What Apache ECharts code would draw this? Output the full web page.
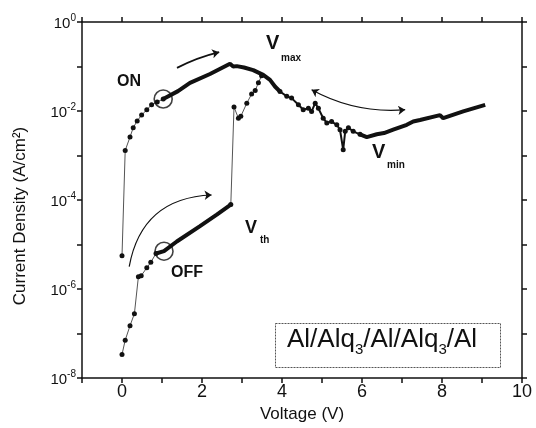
<!DOCTYPE html>
<html>
<head>
<meta charset="utf-8">
<script src="https://cdn.jsdelivr.net/npm/echarts@6/dist/echarts.min.js"></script>
<style>
  html, body { margin: 0; padding: 0; background: #fff; }
  #chart { width: 536px; height: 428px; }
</style>
</head>
<body>
<div id="chart"></div>
<script>
// OFF sweep: low current dots, then the jump at Vth
const offDotsV = [0, 0.08, 0.2, 0.31, 0.41, 0.48, 0.62, 0.72, 0.85]
const offDotsJ = [3.4e-8, 7.1e-8, 1.5e-7, 2.8e-7, 1.9e-6, 2.0e-6, 3.0e-6, 4.0e-6, 6.3e-6]
// OFF state thick segment
const offThickV = [0.85, 1.05, 1.37, 1.95, 2.37, 2.72]
const offThickJ = [6.3e-6, 7.1e-6, 1.17e-5, 2.6e-5, 4.7e-5, 7.9e-5]
// after switching at Vth
const jumpV = [2.72, 2.8, 2.91, 2.97, 3.12, 3.24, 3.33, 3.41, 3.49]
const jumpJ = [7.9e-5, 1.23e-2, 6.9e-3, 7.6e-3, 1.5e-2, 2.4e-2, 2.9e-2, 4.3e-2, 6.2e-2]

// ON sweep: low voltage dots
const onDotsV = [0, 0.08, 0.2, 0.28, 0.38, 0.49, 0.62, 0.74, 0.88, 1.03]
const onDotsJ = [5.6e-6, 1.3e-3, 2.6e-3, 4.2e-3, 6.0e-3, 8.1e-3, 1.07e-2, 1.38e-2, 1.6e-2, 1.86e-2]
// ON thick segment up to Vmax region
const onThickV = [1.03, 1.4, 1.7, 2.2, 2.7, 2.78, 2.87, 3.05, 3.28, 3.53, 3.7, 3.83, 3.95]
const onThickJ = [1.86e-2, 2.8e-2, 4.3e-2, 6.8e-2, 0.115, 0.1, 0.102, 0.095, 0.083, 0.065, 0.05, 0.035, 0.0275]
// NDR region
const ndrV = [3.95, 4.12, 4.24, 4.41, 4.53, 4.66, 4.74, 4.83, 4.91, 5.03, 5.12, 5.24, 5.37, 5.45, 5.53, 5.58, 5.66, 5.78, 5.95]
const ndrJ = [0.0275, 0.0214, 0.0195, 0.0138, 0.0107, 0.0115, 0.0098, 0.015, 0.0115, 0.0069, 0.0054, 0.0058, 0.0049, 0.0038, 0.00135, 0.0035, 0.0042, 0.0035, 0.0030]
// beyond Vmin
const tailV = [5.95, 6.12, 6.37, 6.55, 6.78, 7.12, 7.28, 7.45, 7.95, 8.03, 8.53, 9.08]
const tailJ = [0.0030, 0.0026, 0.0030, 0.0032, 0.0038, 0.0049, 0.0058, 0.0063, 0.0081, 0.0069, 0.0098, 0.0138]

// marked points (circles)
const circleV = [1.03, 1.05]
const circleJ = [1.86e-2, 7.1e-6]

const xTicks = [0, 2, 4, 6, 8, 10]

function pairs(xs, ys) {
  return xs.map((x, i) => [x, ys[i]])
}

const ink = '#111'
const chart = echarts.init(document.getElementById('chart'))

const dotSeries = (data) => ({
  type: 'line',
  data: data,
  symbol: 'circle',
  symbolSize: 5,
  itemStyle: { color: ink },
  lineStyle: { color: '#555', width: 1 },
  animation: false,
  z: 3
})
const thickSeries = (data, w) => ({
  type: 'line',
  data: data,
  showSymbol: false,
  lineStyle: { color: ink, width: w },
  animation: false,
  z: 4
})

// fresh objects per axis; 'inside' was ignored here, so a negative length points the ticks into the plot
const frameTick = () => ({ show: true, inside: true, length: -5, lineStyle: { color: ink, width: 1.5 } })
const frameLine = () => ({ show: true, onZero: false, lineStyle: { color: ink, width: 1.5 } })

const option = {
  backgroundColor: '#fff',
  grid: { left: 82, right: 14, top: 22, bottom: 49 },
  xAxis: [{
    type: 'value',
    min: -1,
    max: 10,
    interval: 1,
    axisLine: frameLine(),
    axisTick: frameTick(),
    splitLine: { show: false },
    axisLabel: {
      color: ink,
      fontFamily: 'Liberation Sans',
      fontSize: 18,
      margin: 5,
      formatter: v => xTicks.indexOf(v) >= 0 ? String(v) : ''
    },
    name: 'Voltage (V)',
    nameLocation: 'middle',
    nameGap: 26,
    nameTextStyle: { color: ink, fontFamily: 'Liberation Sans', fontSize: 17 }
  }, {
    type: 'value',
    position: 'top',
    min: -1,
    max: 10,
    interval: 1,
    axisLine: frameLine(),
    axisTick: frameTick(),
    axisLabel: { show: false },
    splitLine: { show: false }
  }],
  yAxis: [{
    type: 'log',
    logBase: 10,
    min: 1e-8,
    max: 1,
    splitNumber: 8,
    axisLine: frameLine(),
    axisTick: frameTick(),
    splitLine: { show: false },
    axisLabel: {
      margin: 6,
      formatter: v => {
        const e = Math.round(Math.log10(v))
        if (e % 2 !== 0) return ''
        return '{b|10}{s|' + e + '}'
      },
      rich: {
        b: { fontFamily: 'Liberation Sans', fontSize: 15, color: ink, lineHeight: 18, verticalAlign: 'bottom' },
        s: { fontFamily: 'Liberation Sans', fontSize: 10, color: ink, lineHeight: 10, verticalAlign: 'top' }
      }
    }
  }, {
    type: 'log',
    logBase: 10,
    min: 1e-8,
    max: 1,
    splitNumber: 8,
    position: 'right',
    axisLine: frameLine(),
    axisTick: frameTick(),
    axisLabel: { show: false },
    splitLine: { show: false }
  }],
  series: [
    dotSeries(pairs(offDotsV, offDotsJ)),
    thickSeries(pairs(offThickV, offThickJ), 4),
    dotSeries(pairs(jumpV, jumpJ)),
    dotSeries(pairs(onDotsV, onDotsJ)),
    thickSeries(pairs(onThickV, onThickJ), 4),
    Object.assign(dotSeries(pairs(ndrV, ndrJ)), { lineStyle: { color: ink, width: 2 } }),
    thickSeries(pairs(tailV, tailJ), 4),
    {
      type: 'scatter',
      data: pairs(circleV, circleJ),
      symbol: 'circle',
      symbolSize: 18,
      itemStyle: { color: 'rgba(0,0,0,0)', borderColor: ink, borderWidth: 1.6 },
      animation: false,
      z: 6
    },
    {
      // sweep direction arrows
      type: 'lines',
      coordinateSystem: 'cartesian2d',
      symbol: ['none', 'arrow'],
      symbolSize: 7,
      animation: false,
      lineStyle: { color: ink, width: 1.2, opacity: 1 },
      data: [
        { coords: [[1.375, 0.093], [2.43, 0.21]], lineStyle: { curveness: 0.06, width: 1.8 } },
        { coords: [[0.18, 3.2e-6], [2.24, 1.3e-4]], lineStyle: { curveness: 0.4 } },
        { coords: [[4.74, 0.030], [7.08, 0.0107]], lineStyle: { curveness: -0.15 }, symbol: ['arrow', 'arrow'] }
      ],
      z: 5
    }
  ],
  graphic: [
    {
      type: 'text', x: 20, y: 216, rotation: Math.PI / 2,
      style: {
        text: 'Current Density (A/cm²)', fill: ink,
        font: '17px "Liberation Sans"', align: 'center', verticalAlign: 'middle'
      }
    },
    { type: 'text', left: 117, top: 74, style: { text: 'ON', fill: ink, font: 'bold 16px "Liberation Sans"' } },
    { type: 'text', left: 171, top: 265, style: { text: 'OFF', fill: ink, font: 'bold 16px "Liberation Sans"' } },
    { type: 'text', left: 266, top: 33, style: { text: 'V', fill: ink, font: 'bold 20px "Liberation Sans"' } },
    { type: 'text', left: 281, top: 53, style: { text: 'max', fill: ink, font: 'bold 10px "Liberation Sans"' } },
    { type: 'text', left: 372, top: 142, style: { text: 'V', fill: ink, font: 'bold 20px "Liberation Sans"' } },
    { type: 'text', left: 387, top: 160, style: { text: 'min', fill: ink, font: 'bold 10px "Liberation Sans"' } },
    { type: 'text', left: 245, top: 219, style: { text: 'V', fill: ink, font: 'bold 18px "Liberation Sans"' } },
    { type: 'text', left: 260, top: 235, style: { text: 'th', fill: ink, font: 'bold 10px "Liberation Sans"' } },
    {
      type: 'rect', left: 275, top: 323,
      shape: { width: 225, height: 44 },
      style: { fill: '#fff', stroke: '#555', lineWidth: 1, lineDash: [2, 1] }
    },
    {
      type: 'text', left: 287, top: 327,
      style: {
        text: '{a|Al/Alq}{s|3}{a|/Al/Alq}{s|3}{a|/Al}',
        rich: {
          a: { font: '26px "Liberation Sans"', fill: ink, lineHeight: 30, verticalAlign: 'top' },
          s: { font: '15px "Liberation Sans"', fill: ink, lineHeight: 15, verticalAlign: 'bottom' }
        }
      }
    }
  ]
}

chart.setOption(option)
</script>
</body>
</html>
